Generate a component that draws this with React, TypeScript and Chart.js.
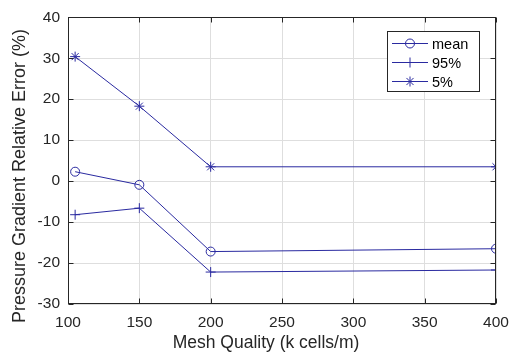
import React, { useEffect, useRef } from 'react';
import { Chart, registerables } from 'chart.js';

Chart.register(...registerables);

const meshQuality = [105, 150, 200, 400];
const meanErr = [2.3, -0.9, -17.2, -16.5];
const p95Err = [-8.2, -6.6, -22.2, -21.7];
const p5Err = [30.4, 18.3, 3.5, 3.5];
const seriesLabels = ['mean', '95%', '5%'];
const seriesStyles = ['circle', 'cross', 'star'];
const xTitle = 'Mesh Quality (k cells/m)';
const yTitle = 'Pressure Gradient Relative Error (%)';

const LINE = 'rgb(42,42,160)';
const AXIS = '#262626';
const GRID = '#dedede';
const FONT = '"Liberation Sans", Arial, Helvetica, sans-serif';

function drawMarker(ctx: CanvasRenderingContext2D, style: string, x: number, y: number, r: number) {
  ctx.strokeStyle = LINE;
  ctx.lineWidth = 1;
  ctx.beginPath();
  if (style === 'circle') {
    ctx.arc(x, y, r, 0, Math.PI * 2);
  } else if (style === 'cross') {
    ctx.moveTo(x - r, y); ctx.lineTo(x + r, y);
    ctx.moveTo(x, y - r); ctx.lineTo(x, y + r);
  } else {
    ctx.moveTo(x - r, y); ctx.lineTo(x + r, y);
    ctx.moveTo(x, y - r); ctx.lineTo(x, y + r);
    const d = r * Math.SQRT1_2;
    ctx.moveTo(x - d, y - d); ctx.lineTo(x + d, y + d);
    ctx.moveTo(x - d, y + d); ctx.lineTo(x + d, y - d);
  }
  ctx.stroke();
}

const framePlugin = {
  id: 'frame',
  afterDraw(chart: any) {
    const { ctx, chartArea: a, scales } = chart;
    ctx.save();
    ctx.strokeStyle = AXIS;
    ctx.lineWidth = 1;
    const L = Math.round(a.left) + 0.5;
    const R = Math.round(a.right) - 0.5;
    const T = Math.round(a.top) + 0.5;
    const B = Math.round(a.bottom) - 0.5;
    ctx.strokeRect(L, T, R - L, B - T);
    const tl = 5;
    ctx.beginPath();
    scales.x.ticks.forEach((t: any) => {
      const x = Math.round(scales.x.getPixelForValue(t.value)) + 0.5;
      ctx.moveTo(x, B); ctx.lineTo(x, B - tl);
      ctx.moveTo(x, T); ctx.lineTo(x, T + tl);
    });
    scales.y.ticks.forEach((t: any) => {
      const y = Math.round(scales.y.getPixelForValue(t.value)) + 0.5;
      ctx.moveTo(L, y); ctx.lineTo(L + tl, y);
      ctx.moveTo(R, y); ctx.lineTo(R - tl, y);
    });
    ctx.stroke();

    // axis titles
    ctx.fillStyle = AXIS;
    ctx.textAlign = 'center';
    ctx.textBaseline = 'alphabetic';
    ctx.font = '17.5px ' + FONT;
    ctx.fillText(xTitle, 266, 348);
    ctx.save();
    ctx.translate(25, 176);
    ctx.rotate(-Math.PI / 2);
    ctx.font = '18px ' + FONT;
    ctx.fillText(yTitle, 0, 0);
    ctx.restore();

    // legend box
    const bx = 387.5, by = 31.5, bw = 92, bh = 60;
    ctx.fillStyle = '#ffffff';
    ctx.fillRect(bx, by, bw, bh);
    ctx.strokeStyle = AXIS;
    ctx.lineWidth = 1;
    ctx.strokeRect(bx, by, bw, bh);
    ctx.font = '14.5px ' + FONT;
    ctx.textBaseline = 'middle';
    ctx.textAlign = 'left';
    chart.data.datasets.forEach((ds: any, i: number) => {
      const y = 43.5 + i * 19;
      ctx.strokeStyle = LINE;
      ctx.lineWidth = 1;
      ctx.beginPath();
      ctx.moveTo(392, y); ctx.lineTo(428, y);
      ctx.stroke();
      drawMarker(ctx, ds.pointStyle, 410, y, ds.pointRadius);
      ctx.fillStyle = '#000000';
      ctx.fillText(ds.label, 432, y + 1);
    });
    ctx.restore();
  },
};

export default function App() {
  const ref = useRef<HTMLCanvasElement>(null);

  useEffect(() => {
    if (!ref.current) return;
    const series = [meanErr, p95Err, p5Err];
    const chart = new Chart(ref.current, {
      type: 'line',
      data: {
        datasets: series.map((vals, i) => ({
          label: seriesLabels[i],
          data: meshQuality.map((x, j) => ({ x, y: vals[j] })),
          borderColor: LINE,
          backgroundColor: 'rgba(0,0,0,0)',
          borderWidth: 1,
          pointStyle: seriesStyles[i] as any,
          pointRadius: i === 0 ? 4.5 : 5,
          pointBorderColor: LINE,
          pointBackgroundColor: 'rgba(0,0,0,0)',
          pointBorderWidth: 1,
          tension: 0,
        })),
      },
      options: {
        animation: false,
        responsive: false,
        devicePixelRatio: 1,
        layout: { padding: { top: 15, right: 25, left: 0, bottom: 0 } },
        plugins: { legend: { display: false }, tooltip: { enabled: false } },
        scales: {
          x: {
            type: 'linear',
            min: 100,
            max: 400,
            afterFit: (s: any) => { s.height = 51; },
            ticks: { stepSize: 50, color: AXIS, font: { family: FONT, size: 15.5 }, padding: 9, maxRotation: 0 },
            grid: { color: GRID, drawTicks: false },
            border: { display: false },
            title: { display: false, text: xTitle },
          },
          y: {
            type: 'linear',
            min: -30,
            max: 40,
            afterFit: (s: any) => { s.width = 68; },
            ticks: { stepSize: 10, color: AXIS, font: { family: FONT, size: 15.5 }, padding: 8 },
            grid: { color: GRID, drawTicks: false },
            border: { display: false },
            title: { display: false, text: yTitle },
          },
        },
      },
      plugins: [framePlugin],
    });
    return () => chart.destroy();
  }, []);

  return (
    <div style={{ position: 'absolute', left: 0, top: 0, width: 521, height: 355 }}>
      <canvas ref={ref} width={521} height={355} style={{ width: 521, height: 355, display: 'block' }} />
    </div>
  );
}
